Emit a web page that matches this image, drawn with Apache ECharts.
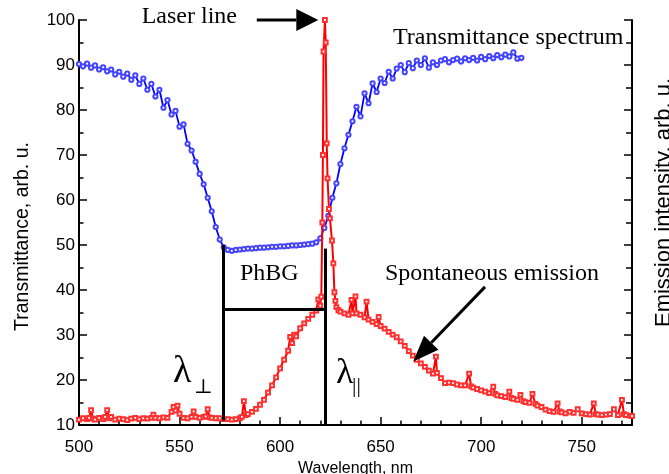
<!DOCTYPE html>
<html>
<head>
<meta charset="utf-8">
<script src="https://cdn.jsdelivr.net/npm/echarts@6/dist/echarts.min.js"></script>
<style>html,body{margin:0;padding:0;background:#fff}#c{width:669px;height:474px}</style>
</head>
<body>
<div id="c"></div>
<script>
// Transmittance spectrum (blue)
var transWl = [500,502,504,506,508,510,512,514,516,518,520,522,524,526,528,530,532,534,536,538,540,542,544,546,548,550,552,554,556,558,560,562,564,566,568,570,572,574,576,578,580,582,584,586,588,590,592,594,596,598,600,602,604,606,608,610,612,614,616,618,620,622,624,626,628,630,632,634,636,638,640,642,644,646,648,650,652,654,656,658,660,662,664,666,668,670,672,674,676,678,680,682,684,686,688,690,692,694,696,698,700,702,704,706,708,710,712,714,716,718,720];
var transVal = [90.2,89.7,90.3,89.4,89.9,89.0,89.5,88.6,89.0,87.9,88.5,87.4,88.1,86.7,87.7,85.8,87.0,84.5,85.8,83.0,84.5,80.5,82.2,79.0,79.8,76.3,76.8,72.5,71.0,68.5,65.8,63.5,60.5,57.5,54.0,51.2,49.5,48.9,48.7,48.9,49.0,49.1,49.2,49.2,49.3,49.4,49.4,49.5,49.6,49.6,49.7,49.7,49.8,49.9,49.9,50.0,50.1,50.2,50.3,50.6,51.5,53.8,56.5,60.5,63.7,68.0,71.5,74.5,77.5,80.7,78.6,83.7,81.5,85.9,84.0,87.0,86.0,88.5,87.0,89.2,90.0,88.4,90.4,89.3,91.0,90.0,91.5,89.4,90.6,90.0,91.0,91.3,90.6,91.1,91.4,90.8,91.5,91.1,91.6,91.0,91.8,91.3,92.0,91.5,92.2,91.7,92.3,91.9,92.8,91.4,91.6];

// Emission spectrum (red)
var emisWl = [500,502,504,505,506,507,508,510,512,513,514,515,516,518,520,522,524,526,528,530,532,534,536,537,538,540,542,544,546,547,548,549,550,552,554,556,557,558,560,562,563,564,565,566,568,570,572,574,576,578,580,581,582,583,584,586,588,590,592,594,596,598,600,602,604,605,606,607,608,610,612,614,616,618,619,620,620.5,621,621.3,621.6,622.3,622.7,623.2,623.6,624.3,624.8,625.8,626.5,627,627.5,628,629,630,632,634,635.5,636,637.5,638,640,642,643,644,646,648,649,650,652,654,656,658,660,662,664,666,668,670,672,674,676,677.5,678,680,682,684,686,688,690,692,694,695,696,698,700,702,704,706,707,708,710,712,714,715,716,718,719.5,721,722,724,725.5,727,728,730,732,734,736,738,739,740,742,744,746,748,750,752,754,756,757,758,760,762,764,766,768,770,771,772,774,775];
var emisVal = [11.2,11.5,11.3,11.6,13.3,11.4,11.2,11.6,11.3,11.8,13.3,11.5,11.8,11.2,11.4,11.3,11.1,11.4,11.6,11.3,11.5,11.4,11.6,12.3,11.6,11.5,11.7,11.6,12.9,14.0,13.2,14.3,12.5,11.6,11.5,11.8,13.0,11.8,11.6,11.8,11.9,13.5,11.7,11.6,11.5,11.5,11.3,11.3,11.2,11.3,11.5,11.8,15.3,12.2,12.4,12.9,13.6,14.5,15.6,17.2,18.8,20.6,22.6,24.5,26.5,29.6,28.2,30.1,29.7,31.5,32.6,33.6,34.5,35.4,37.9,36.5,38.5,55,70,93,100,95,72.6,64.8,58,55.9,51.0,45.9,39.5,37.6,36.2,35.5,35.2,34.8,34.5,37.8,34.8,38.6,34.8,34.5,33.9,37.4,33.4,32.9,32.4,34.0,32.0,31.4,30.7,30.1,29.5,28.6,27.6,26.4,25.4,24.5,23.7,22.9,22.1,21.4,25.2,21.6,20.4,19.3,19.4,19.3,19.0,18.8,18.8,21.4,18.6,18.3,18.0,17.7,17.4,17.1,18.5,16.9,16.6,16.4,16.2,17.4,16.0,15.8,15.6,16.7,15.3,15.1,14.9,16.9,14.7,14.3,14.0,13.4,13.1,12.9,14.8,13.0,12.8,12.6,12.9,12.7,13.5,12.6,12.4,12.3,14.8,12.4,12.3,12.2,12.3,12.4,13.5,12.2,15.6,12.4,12.2,12.1,12.0];

// PhBG edges (wavelength, nm) and level
var edgePerp = 571.5, edgePar = 622.3, phbgLevel = 35.8;

function pairs(xs, ys) { var o = []; for (var i = 0; i < xs.length; i++) o.push([xs[i], ys[i]]); return o; }

var chart = echarts.init(document.getElementById('c'), null, {renderer: 'canvas'});
var sans = "'Liberation Sans', Arial, sans-serif";
var serif = "'Liberation Serif', 'Times New Roman', serif";

var option = {
  animation: false,
  backgroundColor: '#fff',
  grid: {left: 79, right: 37, top: 20, bottom: 49, containLabel: false, outerBoundsMode: 'none'},
  xAxis: [{
    type: 'value', min: 500, max: 775, interval: 50,
    name: 'Wavelength, nm', nameLocation: 'middle', nameGap: 33,
    nameTextStyle: {fontFamily: sans, fontSize: 16, color: '#000'},
    axisLine: {show: true, onZero: false, lineStyle: {color: '#000', width: 2}},
    axisTick: {show: true, inside: true, length: 8, lineStyle: {color: '#000', width: 1.5}},
    axisLabel: {margin: 14, fontFamily: sans, fontSize: 17, color: '#000',
      formatter: function (v) { return v % 50 === 0 ? String(v) : ''; }},
    splitLine: {show: false}
  }, {
    type: 'value', min: 500, max: 775, interval: 10, position: 'bottom',
    axisLine: {show: false},
    axisTick: {show: true, inside: true, length: 4.5, lineStyle: {color: '#000', width: 1.5}},
    axisLabel: {show: false},
    splitLine: {show: false}
  }],
  yAxis: [{
    type: 'value', min: 10, max: 100, interval: 10, position: 'left',
    name: 'Transmittance, arb. u.', nameLocation: 'middle', nameGap: 46, nameRotate: 90,
    nameTextStyle: {fontFamily: sans, fontSize: 19.5, color: '#000', padding: [0, 28, 0, 0]},
    axisLine: {show: true, onZero: false, lineStyle: {color: '#000', width: 2}},
    axisTick: {show: true, inside: true, length: 8, lineStyle: {color: '#000', width: 1.5}},
    minorTick: {show: true, splitNumber: 2, length: 4.5, lineStyle: {color: '#000', width: 1.5}},
    axisLabel: {margin: 4, fontFamily: sans, fontSize: 17, color: '#000'},
    splitLine: {show: false}
  }, {
    type: 'value', min: 10, max: 100, interval: 10, position: 'right',
    name: 'Emission intensity, arb. u.', nameLocation: 'middle', nameGap: 21, nameRotate: 90,
    nameTextStyle: {fontFamily: sans, fontSize: 22, color: '#000', padding: [0, 0, 0, 40]},
    axisLine: {show: true, onZero: false, lineStyle: {color: '#000', width: 2}},
    axisTick: {show: true, inside: true, length: 8, lineStyle: {color: '#000', width: 1.5}},
    minorTick: {show: true, splitNumber: 2, length: 6, lineStyle: {color: '#000', width: 1.5}},
    axisLabel: {show: false},
    splitLine: {show: false}
  }],
  series: [{
    name: 'Transmittance spectrum', type: 'line', xAxisIndex: 0, yAxisIndex: 0,
    data: pairs(transWl, transVal),
    symbol: 'emptyCircle', symbolSize: 4.2, showAllSymbol: true,
    lineStyle: {color: '#0000ff', width: 1.8},
    itemStyle: {color: '#4545ff', borderColor: '#4545ff', borderWidth: 0.9},
    z: 3
  }, {
    name: 'Spontaneous emission', type: 'line', xAxisIndex: 0, yAxisIndex: 1,
    data: pairs(emisWl, emisVal),
    symbol: 'emptyRect', symbolSize: 3.8, showAllSymbol: true,
    lineStyle: {color: '#ff0000', width: 2},
    itemStyle: {color: '#ff3030', borderColor: '#ff3030', borderWidth: 0.9},
    z: 4,
    markLine: {
      silent: true, symbol: ['none', 'none'], animation: false,
      label: {show: false},
      lineStyle: {color: '#000', width: 3, type: 'solid'},
      data: [
        [{coord: [edgePerp, 50]}, {coord: [edgePerp, 11]}],
        [{coord: [edgePerp, phbgLevel]}, {coord: [edgePar, phbgLevel]}],
        [{coord: [edgePar, 49.2]}, {coord: [edgePar, 10.2]}]
      ]
    }
  }]
};
chart.setOption(option);

function px(p) { return chart.convertToPixel({xAxisIndex: 0, yAxisIndex: 0}, p); }
function arrow(s, t, L, W, lw) {
  var S = px(s), T = px(t);
  var dx = T[0] - S[0], dy = T[1] - S[1], len = Math.sqrt(dx * dx + dy * dy);
  dx /= len; dy /= len;
  var B = [T[0] - dx * L, T[1] - dy * L];
  var nx = -dy, ny = dx;
  return [
    {type: 'line', shape: {x1: S[0], y1: S[1], x2: B[0], y2: B[1]}, style: {stroke: '#000', lineWidth: lw}, z: 10},
    {type: 'polygon', shape: {points: [T, [B[0] + nx * W, B[1] + ny * W], [B[0] - nx * W, B[1] - ny * W]]}, style: {fill: '#000'}, z: 10}
  ];
}
function txt(x, y, s, size, fam) {
  return {type: 'text', x: x, y: y, z: 10, style: {text: s, fill: '#000', font: size + 'px ' + fam, textAlign: 'left', textVerticalAlign: 'middle'}};
}
var g = [];
g = g.concat(arrow([588.4, 100], [619, 100], 22, 11, 3));
g = g.concat(arrow([701.9, 40.7], [666.2, 24.1], 26, 10, 3));
g.push(txt(141.7, 17, 'Laser line', 24, serif));
g.push(txt(393, 38, 'Transmittance spectrum', 24, serif));
g.push(txt(240, 274, 'PhBG', 24, serif));
g.push(txt(385, 274, 'Spontaneous emission', 24, serif));
g.push(txt(173, 372, 'λ', 38, serif));
g.push(txt(194, 388, '⊥', 20, "'DejaVu Serif', serif"));
g.push(txt(336, 374, 'λ', 36, serif));
g.push(txt(352, 386, '||', 22, serif));
chart.setOption({graphic: g});
</script>
</body>
</html>
